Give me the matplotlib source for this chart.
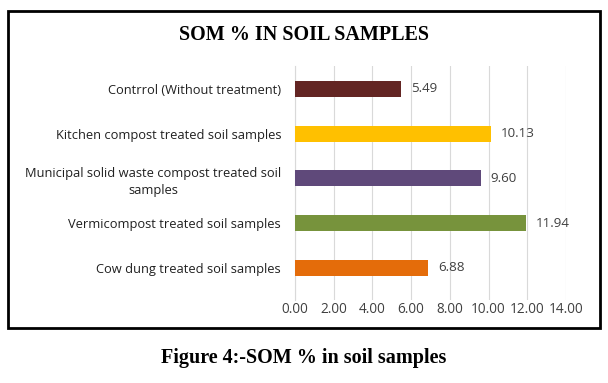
import matplotlib
matplotlib.use("Agg")
import matplotlib.pyplot as plt
from matplotlib.patches import Rectangle

categories = ["Cow dung treated soil samples",
              "Vermicompost treated soil samples",
              "Municipal solid waste compost treated soil\nsamples",
              "Kitchen compost treated soil samples",
              "Contrrol (Without treatment)"]
values = [6.88, 11.94, 9.60, 10.13, 5.49]
colors = ["#E46C0A", "#77933C", "#5F497A", "#FFC000", "#632523"]
xticks = [0, 2, 4, 6, 8, 10, 12, 14]

W, H = 608, 383
fig = plt.figure(figsize=(W/100, H/100), dpi=100)
fig.patch.set_facecolor("white")

# outer chart border
fig.patches.append(Rectangle((8/W, 1-328/H), (600-8)/W, (328-11)/H,
                             transform=fig.transFigure, fill=False,
                             edgecolor="black", linewidth=2.0))

ax = fig.add_axes([295/W, 1-300/H, (566-295)/W, (300-66)/H])
y = list(range(len(categories)))
ax.barh(y, values, height=0.36, color=colors, zorder=3)
ax.set_xlim(0, 14)
ax.set_ylim(-0.715, 4.51)
ax.set_xticks(xticks)
ax.set_xticklabels([f"{t:.2f}" for t in xticks], fontsize=9.8,
                   color="#404040", family="Open Sans")
ax.set_yticks(y)
ax.set_yticklabels(categories, fontsize=9.3, color="#202020",
                   family="Open Sans", multialignment="center",
                   linespacing=1.4)
ax.tick_params(axis="both", length=0)
ax.tick_params(axis="y", pad=10)
ax.tick_params(axis="x", pad=1.5)
ax.grid(axis="x", color="#D9D9D9", linewidth=0.8, zorder=0)
for s in ["top", "right", "bottom"]:
    ax.spines[s].set_visible(False)
ax.spines["left"].set_color("#D9D9D9")
ax.spines["left"].set_linewidth(0.8)

for yi, v in zip(y, values):
    ax.text(v + 0.5, yi, f"{v:.2f}", va="center", ha="left",
            fontsize=9.6, color="#404040", family="Open Sans")

fig.text(0.5, 1-35.5/H, "SOM % IN SOIL SAMPLES", ha="center", va="center",
         fontsize=14.5, fontweight="bold", family="Liberation Serif")
fig.text(0.5, 1-358/H, "Figure 4:-SOM % in soil samples", ha="center",
         va="center", fontsize=14.5, fontweight="bold", family="Liberation Serif")

fig.savefig("out.png", dpi=100)
